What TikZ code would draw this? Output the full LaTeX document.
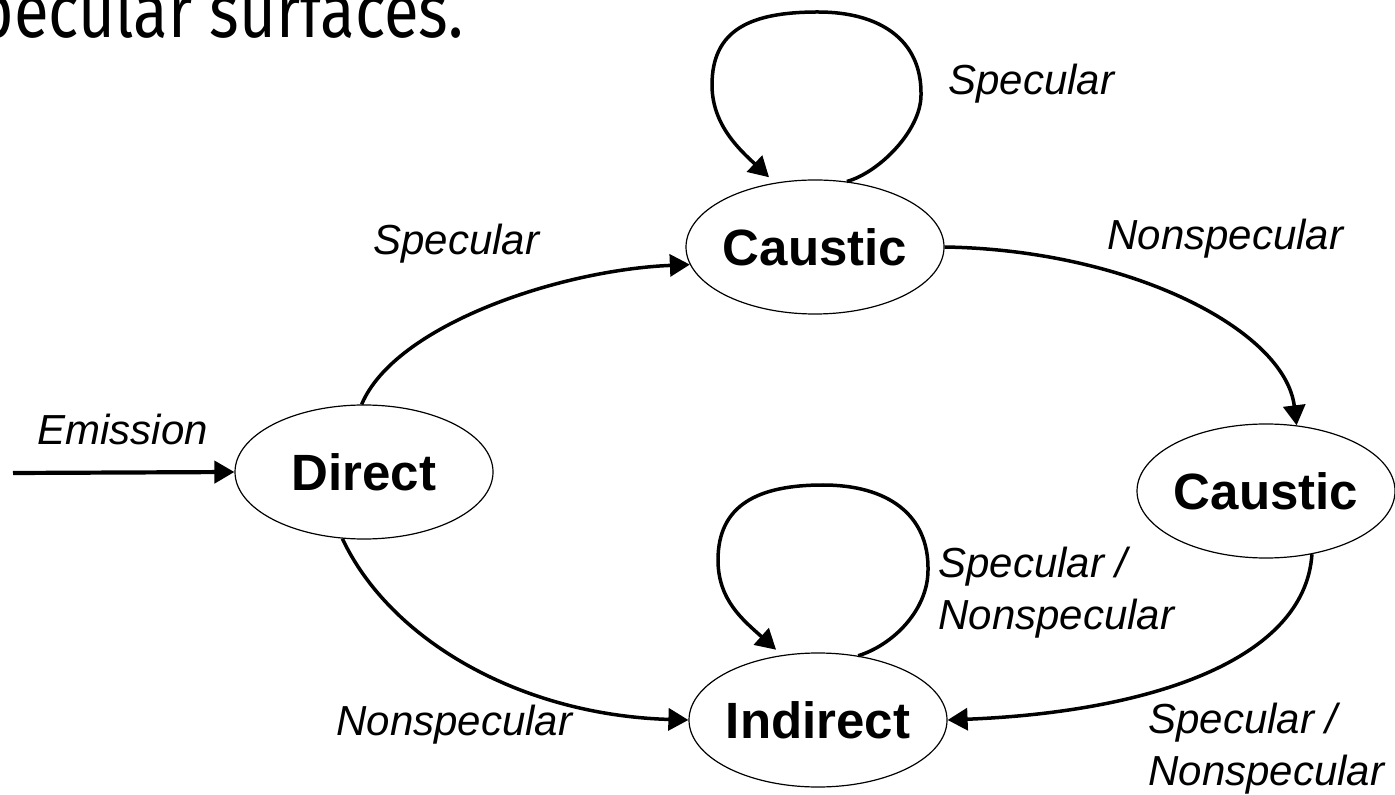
\documentclass[tikz,border=0pt]{standalone}
\usepackage{fontspec}
\usepackage{graphicx}
\setmainfont{Liberation Sans}
\newfontfamily\headfont{Fira Sans}
\usetikzlibrary{arrows.meta,shapes.geometric,calc}
\begin{document}
\begin{tikzpicture}[x=0.5pt,y=-0.5pt,
  state/.style={ellipse,draw,line width=0.6pt,minimum width=129pt,minimum height=67pt,inner sep=0pt,
    font=\fontsize{25.5pt}{30pt}\selectfont\bfseries},
  lbl/.style={font=\fontsize{21pt}{26pt}\selectfont\itshape,inner sep=0pt,align=left},
  conn/.style={line width=1.75pt,-{Triangle[length=10pt,width=11pt]}},
]
\useasboundingbox (0,0) rectangle (1395,795);

% heading (clipped at the page edge, as in the reference)
\node[anchor=base east,inner sep=0pt,font=\headfont\fontsize{38pt}{40pt}\selectfont] (head) at (464,38)
  {\scalebox{0.835}[1]{pecular surfaces.}};

% states
\node[state] (direct)   at (364,472) {\makebox[0pt]{Direct}};
\node[state] (causticT) at (815,247) {\makebox[0pt]{Caustic}};
\node[state] (causticR) at (1266,491) {\makebox[0pt]{Caustic}};
\node[state] (indirect) at (818,720) {\makebox[0pt]{Indirect}};

% emission
\coordinate (src) at (13,473);
\draw[conn,line width=2.1pt] (src) -- (direct.west);
\node[lbl,anchor=base west] (lemi) at (37,445) {Emission};

% direct -> caustic (top)
\draw[conn] (direct.92) .. controls (395,325) and (560,270) .. (causticT.188);
\node[lbl,anchor=base west] (lspec1) at (373,255) {Specular};

% direct -> indirect
\draw[conn] (direct.252) .. controls (390,640) and (520,715) .. (indirect.west);
\node[lbl,anchor=base west] (lnon1) at (336,735) {Nonspecular};

% caustic (top) -> caustic (right)
\draw[conn] (causticT.east) .. controls (1130,250) and (1285,330) .. (causticR.65);
\node[lbl,anchor=base west] (lnon2) at (1107,250) {Nonspecular};

% caustic (right) -> indirect
\draw[conn] (causticR.306) .. controls (1305,660) and (1150,712) .. (indirect.east);
\node[lbl,anchor=north west] (lsn2) at (1148,703) {Specular /\\Nonspecular};

% self loop on caustic (top)
\begin{scope}[shift={(causticT.center)}]
\draw[conn,shorten >=4pt] (causticT.64)
  .. controls (65,-75) and (106,-117) .. (106,-152)
  .. controls (107,-207) and (65,-235) .. (3,-235)
  .. controls (-65,-235) and (-103,-217) .. (-103,-162)
  .. controls (-103,-122) and (-75,-97) .. (causticT.122);
\end{scope}
\node[lbl,anchor=base west] (lspec2) at (948,95) {Specular};

% self loop on indirect
\begin{scope}[shift={(indirect.center)}]
\draw[conn,shorten >=4pt] (indirect.58)
  .. controls (75,-75) and (110,-110) .. (110,-150)
  .. controls (111,-205) and (70,-235) .. (5,-235)
  .. controls (-60,-235) and (-100,-215) .. (-100,-160)
  .. controls (-100,-120) and (-75,-100) .. (indirect.119);
\end{scope}
\node[lbl,anchor=north west] (lsn1) at (938,547) {Specular /\\Nonspecular};
\end{tikzpicture}
\end{document}
